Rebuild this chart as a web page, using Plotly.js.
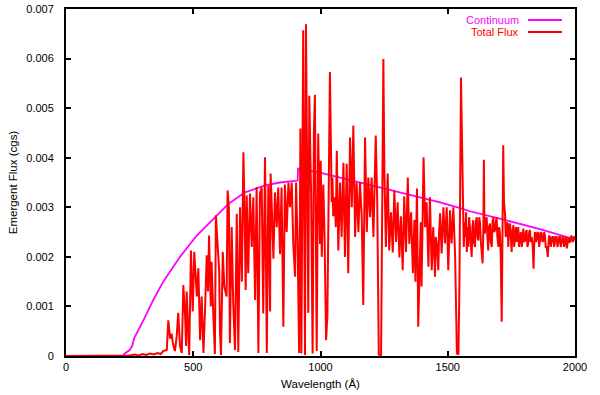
<!DOCTYPE html>
<html>
<head>
<meta charset="utf-8">
<script src="https://cdn.plot.ly/plotly-3.0.1.min.js"></script>
<style>html,body{margin:0;padding:0;background:#fff;}#chart{width:600px;height:395px;}</style>
</head>
<body>
<div id="chart"></div>
<script>
// Continuum (magenta)
const contWave = [0,226,228,250,260,268,304,343,382,448,514,579,638,703,782,841,910,912,998,1077,1155,1234,1312,1391,1470,1552,1587,1705,1862,2000];
const contFlux = [0,0,0.00004,0.00012,0.0002,0.00036,0.00072,0.00113,0.0015,0.002,0.00243,0.00277,0.00307,0.0033,0.00344,0.0035,0.00354,0.00378,0.0037,0.0036,0.0035,0.00341,0.00331,0.0032,0.0031,0.00298,0.00292,0.00277,0.00256,0.00235];

// Total flux (red), below 1000 A
const totWaveA = [0,100,200,230,250,270,285,300,315,330,345,360,372,382,396,402,409,415,420,428,435,441,448,455,461,468,472,474,479,484,491,498,504,514,520,527,533,540,546,553,558,562,569,572,579,585,589,595,602,605,609,616,622,631,635,640,644,651,657,664,671,677,684,691,697,701,706,710,716,723,730,736,743,749,756,762,769,775,782,789,795,802,804,808,815,821,828,834,841,847,854,860,867,874,880,887,893,900,904,910,916,921,925,932,939,943,948,952,956,963,969,974,978,985,991,998];
const totFluxA = [0,0,0,0,0.00001,0.00003,0.00001,0.00004,0.00002,0.00005,0.00003,0.00006,0.00004,0.0001,0.00012,0.00072,0.00035,0.00045,0.00025,0.0001,0.0004,0.00087,0.0002,0.00006,0.00143,0.0008,0.0002,0.0013,0.0005,0.00002,0.00213,0.0009,0.0021,0.0012,0.00177,0.00032,0.0012,0.00006,0.0009,0.00203,0.0013,0.00243,0.001,0.0019,0.0008,0.00004,0.00284,0.0024,0.0017,0.0005,0.00002,0.0021,0.0014,0.0012,0.00334,0.003,0.00026,0.0026,0.00107,0.00012,0.00287,0.00008,0.003,0.0015,0.00411,0.0031,0.00133,0.00324,0.00167,0.00328,0.0022,0.0032,0.00113,0.00341,0.00006,0.00328,0.0034,0.00086,0.00401,0.00006,0.00344,0.0009,0.00368,0.0031,0.00196,0.0033,0.0026,0.0034,0.00206,0.0034,0.00059,0.00346,0.0025,0.0035,0.003,0.0035,0.00226,0.0016,0.0035,0.0023,0.00006,0.00459,0.00005,0.00657,0.00002,0.00669,0.0025,0.00087,0.00525,0.0033,0.00005,0.0045,0.00527,0.0001,0.00449,0.00226];

// Total flux (red), 1000 - 1555 A
const totWaveB = [1001,1005,1011,1016,1022,1027,1032,1037,1044,1047,1050,1057,1060,1064,1070,1074,1077,1083,1087,1090,1096,1100,1103,1109,1113,1116,1123,1126,1129,1136,1139,1142,1149,1152,1155,1162,1168,1172,1175,1182,1185,1188,1195,1198,1201,1208,1212,1217,1223,1229,1238,1247,1251,1257,1260,1264,1270,1274,1277,1284,1287,1290,1297,1300,1303,1310,1313,1316,1323,1326,1329,1336,1339,1343,1349,1352,1356,1363,1366,1369,1373,1379,1384,1391,1394,1397,1405,1411,1414,1417,1424,1427,1430,1437,1440,1443,1450,1453,1457,1463,1466,1470,1476,1480,1483,1489,1492,1496,1502,1505,1509,1515,1518,1522,1529,1536,1542,1546,1552,1555];
const totFluxB = [0.00394,0.002,0.00346,0.0024,0.00032,0.0008,0.0032,0.00573,0.0031,0.0036,0.00282,0.0032,0.0026,0.00414,0.00213,0.0031,0.0035,0.0024,0.0033,0.0039,0.002,0.0031,0.00388,0.00167,0.0033,0.00441,0.003,0.0037,0.00465,0.0024,0.0031,0.0035,0.0025,0.0033,0.0035,0.0028,0.00103,0.0029,0.00441,0.0025,0.0032,0.0036,0.0028,0.0034,0.0036,0.0024,0.0033,0.00445,0.0031,0.00003,0.00002,0.00599,0.0037,0.0022,0.0029,0.00368,0.00213,0.0027,0.0029,0.00209,0.0028,0.00334,0.0023,0.0028,0.0031,0.00199,0.0026,0.00282,0.00173,0.0027,0.00322,0.0021,0.0028,0.0036,0.00226,0.0027,0.0029,0.00167,0.0024,0.00275,0.0015,0.00338,0.00059,0.0022,0.0027,0.0014,0.00401,0.0026,0.0029,0.0031,0.0018,0.0026,0.0032,0.00173,0.0023,0.0026,0.0016,0.0024,0.00227,0.00173,0.0025,0.00288,0.00207,0.0026,0.003,0.00227,0.0027,0.003,0.00173,0.0025,0.00294,0.00227,0.0026,0.003,0.002,0.00005,0.00003,0.0015,0.00562,0.0043];

// Total flux (red), above 1555 A
const totWaveC = [1560,1563,1566,1569,1572,1575,1578,1581,1584,1587,1590,1594,1597,1600,1603,1607,1610,1614,1617,1620,1624,1627,1630,1633,1637,1640,1642,1644,1646,1649,1653,1656,1659,1662,1666,1669,1673,1676,1679,1682,1686,1689,1692,1695,1699,1702,1705,1708,1712,1715,1718,1721,1725,1728,1732,1735,1738,1741,1745,1748,1751,1754,1758,1761,1765,1768,1771,1774,1777,1780,1784,1787,1791,1794,1797,1800,1804,1807,1810,1813,1817,1820,1823,1826,1830,1834,1837,1840,1843,1846,1849,1852,1856,1859,1862,1865,1869,1872,1876,1879,1882,1885,1889,1893,1896,1898,1902,1905,1908,1911,1915,1918,1921,1924,1928,1931,1934,1938,1941,1944,1948,1951,1954,1957,1961,1964,1968,1971,1974,1977,1980,1984,1987,1990,1994,1997,2000];
const totFluxC = [0.0031,0.0022,0.0027,0.0024,0.0029,0.0021,0.0026,0.0022,0.0028,0.0026,0.0023,0.002,0.0026,0.00274,0.0023,0.0022,0.0027,0.0028,0.0024,0.00233,0.0028,0.00267,0.0023,0.00207,0.00187,0.0026,0.00396,0.0027,0.00247,0.0027,0.0028,0.0024,0.00213,0.0026,0.00267,0.0023,0.0022,0.0027,0.0028,0.0025,0.00254,0.0027,0.0028,0.0024,0.0022,0.0026,0.00247,0.0021,0.00069,0.0024,0.00425,0.0031,0.00287,0.0024,0.0026,0.0027,0.0022,0.0026,0.00267,0.0023,0.0021,0.0025,0.00264,0.0022,0.0024,0.0026,0.0023,0.0025,0.0026,0.0022,0.00233,0.0025,0.0022,0.0025,0.00257,0.0023,0.00233,0.0025,0.00254,0.0022,0.0023,0.0025,0.00254,0.0023,0.0024,0.0022,0.00176,0.0023,0.0025,0.0023,0.00233,0.0025,0.00247,0.0022,0.0023,0.0025,0.00247,0.0023,0.00233,0.0025,0.00243,0.0022,0.0022,0.002,0.0023,0.00243,0.0024,0.0022,0.0023,0.0024,0.0024,0.0022,0.0023,0.0024,0.0024,0.0022,0.00227,0.0024,0.0024,0.0022,0.0023,0.0024,0.0024,0.0022,0.00233,0.0024,0.00217,0.0023,0.0024,0.0023,0.0023,0.0024,0.00243,0.0023,0.00233,0.0024,0.0024];

const xTickVals = [0,500,1000,1500,2000];
const xTickText = ['0','500','1000','1500','2000'];
const yTickVals = [0,0.001,0.002,0.003,0.004,0.005,0.006,0.007];
const yTickText = ['0','0.001','0.002','0.003','0.004','0.005','0.006','0.007'];
const seriesNames = ['Continuum','Total Flux'];
const seriesColors = ['#ff00ff','#ff0000'];

const totWave = totWaveA.concat(totWaveB, totWaveC);
const totFlux = totFluxA.concat(totFluxB, totFluxC);

const FONT = 'Liberation Sans, Arial, Helvetica, sans-serif';

const traces = [
  {x: contWave, y: contFlux, type: 'scatter', mode: 'lines', name: seriesNames[0],
   line: {color: seriesColors[0], width: 1.8}, hoverinfo: 'skip'},
  {x: totWave, y: totFlux, type: 'scatter', mode: 'lines', name: seriesNames[1],
   line: {color: seriesColors[1], width: 2}, hoverinfo: 'skip'}
];

const axisCommon = {
  showline: true, linecolor: '#000', linewidth: 2, mirror: 'ticks',
  ticks: 'inside', ticklen: 5, tickwidth: 2, tickcolor: '#000',
  showgrid: false, zeroline: false,
  tickfont: {family: FONT, size: 11, color: '#000'}
};

const legY = [0.968, 0.934];
const annotations = seriesNames.map((n, i) => ({
  xref: 'paper', yref: 'paper', x: 0.894, y: legY[i], xanchor: 'right', yanchor: 'middle',
  text: n, showarrow: false, font: {family: FONT, size: 11, color: seriesColors[i]}
}));
const shapes = seriesNames.map((n, i) => ({
  type: 'line', xref: 'paper', yref: 'paper', x0: 0.9077, x1: 0.9745, y0: legY[i], y1: legY[i],
  line: {color: seriesColors[i], width: 2}
}));

const layout = {
  width: 600, height: 395,
  margin: {l: 66, r: 25, t: 9, b: 39, pad: 0},
  paper_bgcolor: '#fff', plot_bgcolor: '#fff',
  showlegend: false,
  font: {family: FONT, size: 11, color: '#000'},
  xaxis: Object.assign({}, axisCommon, {
    range: [0, 2000], tickvals: xTickVals, ticktext: xTickText,
    title: {text: 'Wavelength (Å)', font: {family: FONT, size: 11.5, color: '#000'}, standoff: 8}
  }),
  yaxis: Object.assign({}, axisCommon, {
    range: [0, 0.007], tickvals: yTickVals, ticktext: yTickText, ticklabelstandoff: 8,
    title: {text: 'Emergent Flux (cgs)', font: {family: FONT, size: 11.5, color: '#000'}, standoff: 6}
  }),
  annotations: annotations,
  shapes: shapes
};

Plotly.newPlot('chart', traces, layout, {staticPlot: true, displayModeBar: false});
</script>
</body>
</html>
